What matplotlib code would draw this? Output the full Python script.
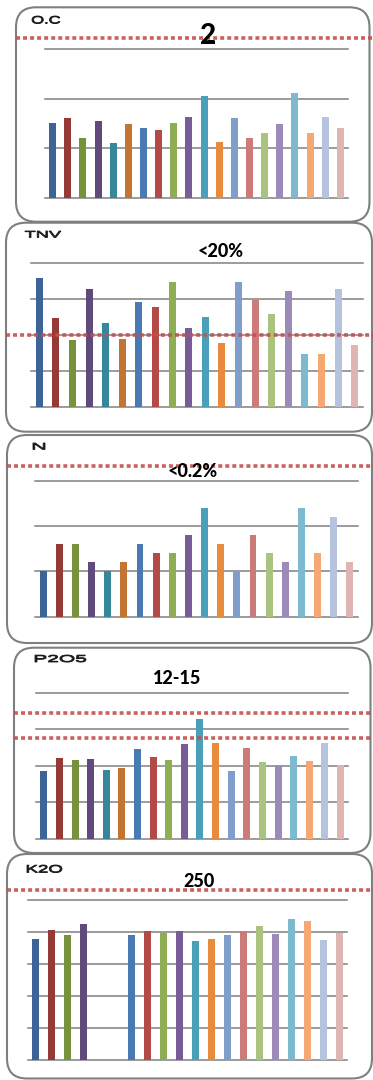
import numpy as np
import matplotlib
matplotlib.use("Agg")
import matplotlib.pyplot as plt
from matplotlib.patches import FancyBboxPatch, PathPatch
from matplotlib.transforms import Affine2D
from matplotlib.textpath import TextPath
from matplotlib.font_manager import FontProperties

# ---- data -------------------------------------------------------------
samples = list(range(1, 21))

bar_colors = ['#3c6496', '#963a38', '#77913d', '#604a7b', '#37879b',
              '#c27532', '#4a7ab4', '#b44a48', '#8fad52', '#775c98',
              '#4aa0b8', '#e88b3c', '#809ecb', '#cc7b7a', '#aac47f',
              '#9c8bb8', '#7dbad0', '#f6a874', '#b6c3df', '#dfb5b4']

oc = [0.94, 1.00, 0.75, 0.96, 0.69, 0.92, 0.87, 0.85, 0.94, 1.01,
      1.27, 0.70, 1.00, 0.75, 0.81, 0.92, 1.31, 0.81, 1.01, 0.87]
tnv = [35.9, 24.8, 18.7, 32.9, 23.4, 19.0, 29.3, 27.9, 34.8, 22.0,
       25.1, 17.9, 34.8, 29.8, 25.9, 32.3, 14.8, 14.8, 32.9, 17.3]
n_total = [0.060, 0.096, 0.096, 0.072, 0.060, 0.072, 0.096, 0.084, 0.084, 0.108,
           0.144, 0.096, 0.060, 0.108, 0.084, 0.072, 0.144, 0.084, 0.132, 0.072]
p2o5 = [8.1, 9.6, 9.4, 9.5, 8.2, 8.4, 10.7, 9.7, 9.4, 11.3,
        14.3, 11.4, 8.1, 10.8, 9.1, 8.8, 9.9, 9.3, 11.4, 8.8]
k2o = [178, 191, 184, 200, np.nan, np.nan, 184, 189, 187, 189,
       175, 178, 184, 189, 197, 185, 207, 204, 176, 187]

panel_names = ['O.C', 'TNV', 'N', 'P2O5', 'K2O']
panel_titles = ['2', '<20%', '<0.2%', '12-15', '250']
thresholds = [[2.0], [20.0], [0.2], [12.0, 15.0], [250.0]]
grid_steps = [0.62, 10.0, 0.06, 4.35, 47.0]
grid_counts = [3, 4, 3, 4, 5]
series = [oc, tnv, n_total, p2o5, k2o]

# ---- layout (pixel units, origin at top-left) --------------------------
W, H = 373, 1080
boxes = [(16, 7.3, 369.5, 221.7), (6, 222.7, 372, 431.7), (7, 435, 372, 643),
         (14, 647.7, 370.5, 853), (7, 854, 372, 1078.5)]
plot_areas = [(45, 348, 49, 198), (31, 363, 263.3, 407.3), (35, 358, 481, 616.7),
              (36, 348.3, 692.7, 839), (27.7, 347.3, 900, 1060.3)]
bar_widths = [0.46, 0.42, 0.43, 0.45, 0.44]
title_pos = [(208.5, 44, 20), (221, 257.3, 13), (192.5, 476.7, 13),
             (176.7, 684.3, 13), (198.8, 886.7, 13)]
name_boxes = [(32, 60, 16, 23.5), (25, 61, 231, 237.5), (33, 45, 443, 449.5),
              (35, 86, 655, 662), (27, 62, 865, 872.5)]

fig = plt.figure(figsize=(W / 100, H / 100), dpi=100)
fig.patch.set_facecolor('white')
px = Affine2D().scale(1, -1).translate(0, H).scale(1 / W, 1 / H) + fig.transFigure

grid_color = '#858585'
red = '#c4504e'
label_font = FontProperties(family=['Liberation Sans', 'DejaVu Sans'])

for i in range(5):
    bx0, by0, bx1, by1 = boxes[i]
    box = FancyBboxPatch((bx0, by0), bx1 - bx0, by1 - by0,
                         boxstyle='round,pad=0,rounding_size=20',
                         transform=px, facecolor='none', edgecolor='#7f7f7f',
                         linewidth=1.5, zorder=-1)
    fig.patches.append(box)

    left, right, top, bottom = plot_areas[i]
    ax = fig.add_axes([left / W, 1 - bottom / H, (right - left) / W, (bottom - top) / H])
    ax.set_facecolor('none')
    step = grid_steps[i]
    ax.set_xlim(-0.5, len(samples) - 0.5)
    ax.set_ylim(0, step * grid_counts[i])
    for k in range(grid_counts[i] + 1):
        ax.axhline(k * step, color=grid_color, linewidth=1.15, zorder=1, clip_on=False)
    ax.bar(np.arange(len(samples)), series[i], width=bar_widths[i],
           color=bar_colors, zorder=2)
    ax.set_axis_off()

    xmin = (bx0 - left) / (right - left)
    xmax = (W + 2 - left) / (right - left)
    for t in thresholds[i]:
        ax.axhline(t, xmin=xmin, xmax=xmax, color=red, alpha=0.9, linewidth=2.6,
                   linestyle=(0, (1.1, 0.85)), zorder=3, clip_on=False)

    tx, ty, ts = title_pos[i]
    fig.text(tx, ty, panel_titles[i], transform=px, ha='center', va='baseline',
             fontsize=ts, fontweight='black', family=['Lato', 'DejaVu Sans'],
             color='black', zorder=5)

    # small wide panel name, stretched to fit its box
    nx0, nx1, ntop, nbase = name_boxes[i]
    tp = TextPath((0, 0), panel_names[i], size=1, prop=label_font)
    ext = tp.get_extents()
    sx = (nx1 - nx0) / ext.width
    sy = (nbase - ntop) / ext.y1
    tr = Affine2D().scale(sx, -sy).translate(nx0 - ext.x0 * sx, nbase) + px
    fig.patches.append(PathPatch(tp, transform=tr, facecolor='#1a1a1a',
                                 edgecolor='#1a1a1a', linewidth=0.6, zorder=5))

fig.savefig('out.png', dpi=100, facecolor='white')
